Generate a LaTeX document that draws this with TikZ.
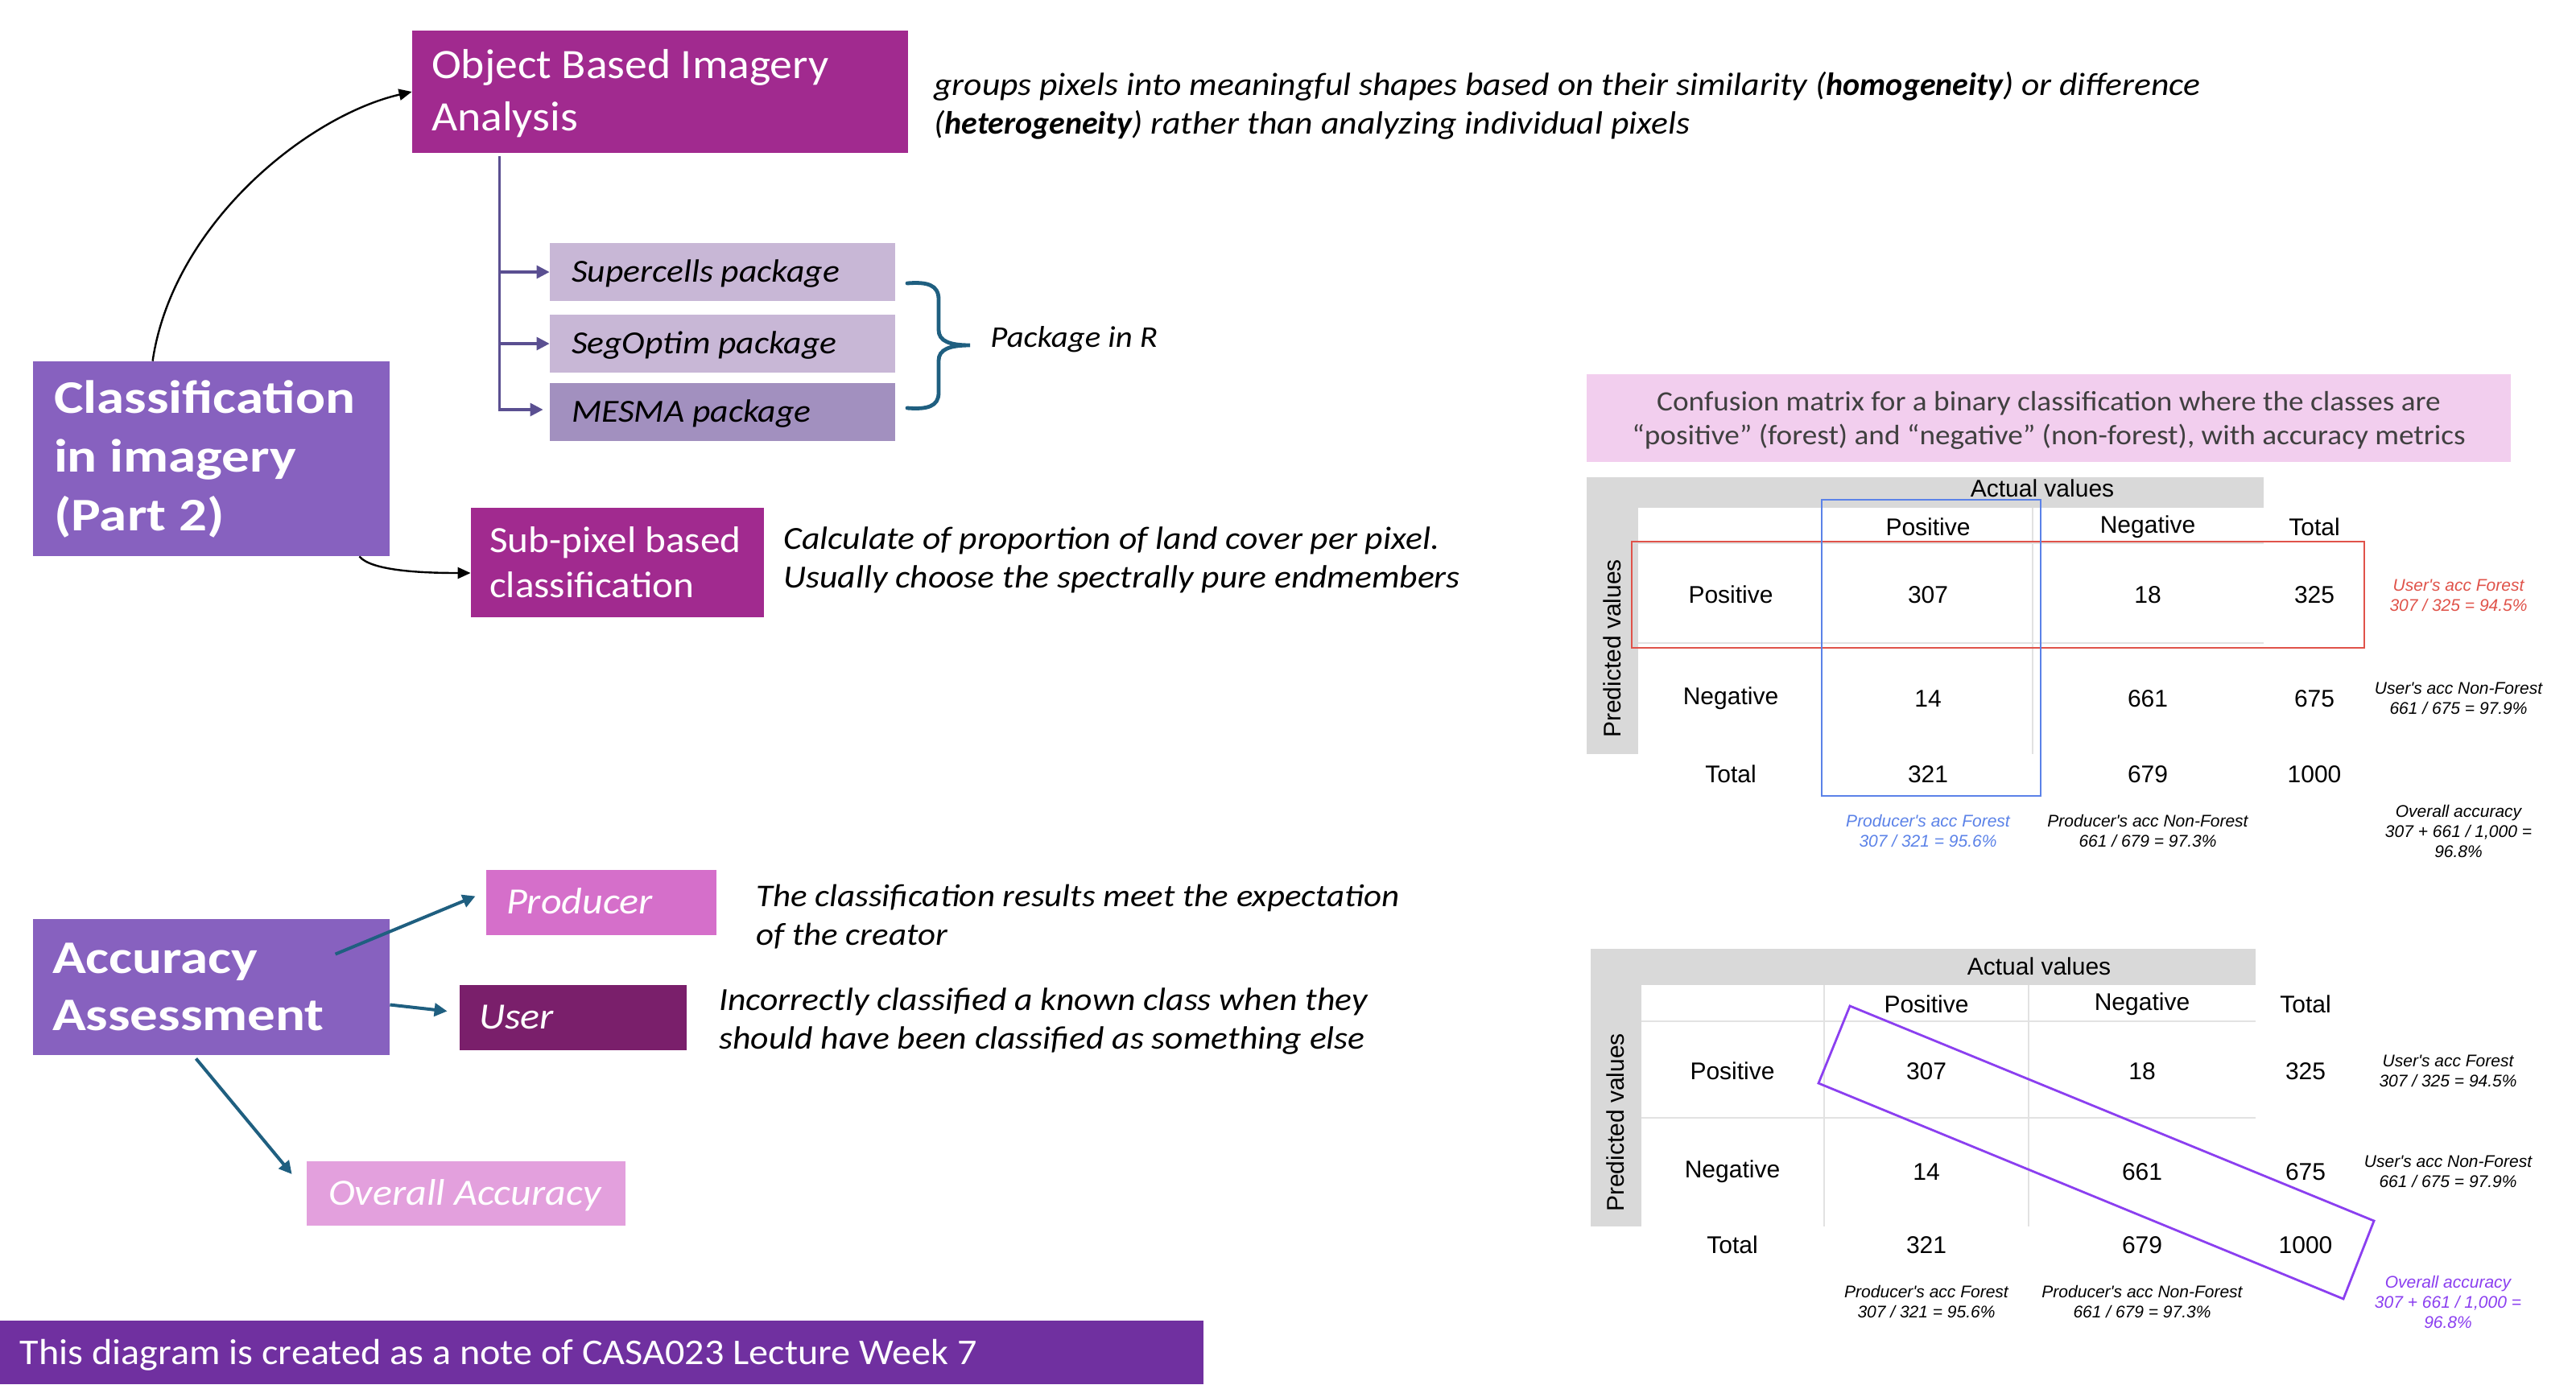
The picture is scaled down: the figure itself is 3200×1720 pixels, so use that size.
\documentclass[tikz,border=0pt]{standalone}
\usepackage{fontspec}
\setmainfont{Carlito}[UprightFeatures={FakeStretch=1.07}, BoldFeatures={FakeStretch=1.19}, ItalicFeatures={FakeStretch=1.09}, BoldItalicFeatures={FakeStretch=1.0}]
\newfontfamily\arialf{Liberation Sans}
\usetikzlibrary{arrows.meta,calc}
\newcommand\myfs[2]{\fontsize{#1}{#2}\selectfont}
\definecolor{cObia}{HTML}{A12A8F}
\definecolor{cCls}{HTML}{8761BF}
\definecolor{cPkgL}{HTML}{C8B7D6}
\definecolor{cPkgD}{HTML}{A290BF}
\definecolor{cProd}{HTML}{D56FCA}
\definecolor{cUser}{HTML}{7A1F6B}
\definecolor{cOver}{HTML}{E3A0DD}
\definecolor{cFoot}{HTML}{7030A0}
\definecolor{cCap}{HTML}{F2CEEE}
\definecolor{cGray}{HTML}{D9D9D9}
\definecolor{cGrid}{HTML}{E2E2E2}
\definecolor{cTeal}{HTML}{1F5F80}
\definecolor{cBranch}{HTML}{5A4F91}
\definecolor{cRed}{HTML}{E0534A}
\definecolor{cBlue}{HTML}{5B82E8}
\definecolor{cViolet}{HTML}{8B3FF0}
\definecolor{cCapT}{HTML}{404040}
\begin{document}
\begin{tikzpicture}[x=0.5pt,y=-0.5pt,
  boxs/.style={rectangle, draw=none, inner sep=0pt},
  txt/.style={inner sep=0pt, align=left, anchor=west},
  one/.style={inner sep=0pt, anchor=base west},
  mt/.style={inner sep=0pt, font=\arialf\myfs{15}{18}},
  note/.style={inner sep=0pt, align=center, font=\arialf\itshape\myfs{10.5}{12.5}},
  blackarrow/.style={draw=black, line width=1.2pt, -{Triangle[length=8pt,width=7pt]}},
  brancharrow/.style={draw=cBranch, line width=1.6pt, -{Triangle[length=8pt,width=8pt]}},
  tealarrow/.style={draw=cTeal, line width=2pt, -{Triangle[length=8pt,width=8pt]}},
  gridline/.style={draw=cGrid, line width=1.2pt}
]
\useasboundingbox (0,0) rectangle (3200,1720);
\fill[white] (0,0) rectangle (3200,1720);

% ---------- left upper part ----------
\node[boxs, fill=cObia, minimum width=308pt, minimum height=76pt] (obia) at (820,114) {};
\node[txt, text=white, font=\myfs{26}{32.5}] (obiaT) at ($(obia.west)+(24,2)$) {Object Based Imagery\\Analysis};

\node[boxs, fill=cCls, minimum width=221.5pt, minimum height=121pt] (cls) at (262.5,570) {};
\node[txt, text=white, font=\bfseries\myfs{29}{36.5}] (clsT) at ($(cls.west)+(26,0)$) {Classification\\in imagery\\(Part 2)};

\node[boxs, fill=cPkgL, minimum width=214.5pt, minimum height=36pt] (sup) at (897.5,338) {};
\node[one, font=\itshape\myfs{20}{24}] (supT) at ($(sup.west)+(27,12)$) {Supercells package};
\node[boxs, fill=cPkgL, minimum width=214.5pt, minimum height=36pt] (seg) at (897.5,427) {};
\node[one, font=\itshape\myfs{20}{24}] (segT) at ($(seg.west)+(27,12)$) {SegOptim package};
\node[boxs, fill=cPkgD, minimum width=214.5pt, minimum height=36pt] (mes) at (897.5,512) {};
\node[one, font=\itshape\myfs{20}{24}] (mesT) at ($(mes.west)+(27,12)$) {MESMA package};

\node[boxs, fill=cObia, minimum width=182pt, minimum height=68pt] (sub) at (767,699) {};
\node[txt, text=white, font=\myfs{23}{28}] (subT) at ($(sub.west)+(23,0)$) {Sub-pixel based\\classification};

\node[txt, font=\itshape\myfs{20}{24}] (obiaD) at (1160,131) {groups pixels into meaningful shapes based on their similarity (\textbf{homogeneity}) or difference\\(\textbf{heterogeneity}) rather than analyzing individual pixels};
\node[one, font=\itshape\myfs{18.7}{23}] (pkgR) at (1230,431) {Package in R};
\node[txt, font=\itshape\myfs{20}{24}] (subD) at (973,696) {Calculate of proportion of land cover per pixel.\\Usually choose the spectrally pure endmembers};

% brace
\draw[cTeal, line width=2.4pt, line cap=round]
  (1127,352) .. controls (1152,350) and (1166,354) .. (1166,372) -- (1166,410)
  .. controls (1166,424) and (1180,429) .. (1205,429)
  .. controls (1180,429) and (1166,434) .. (1166,448) -- (1166,488)
  .. controls (1166,505) and (1152,509) .. (1127,507);

% connectors
\draw[blackarrow] ($(cls.north west)+(149,0)$) .. controls +(25,-170) and +(-130,30) .. (obia.west);
\draw[blackarrow] ($(cls.south east)+(-38,0)$) .. controls +(15,18) and +(-60,0) .. ($(sub.west)+(0,13)$);
\draw[brancharrow] ($(obia.south west)+(109,4)$) |- (sup.west);
\draw[brancharrow] ($(obia.south west)+(109,4)$) |- (seg.west);
\draw[brancharrow] ($(obia.south west)+(109,4)$) |- ($(mes.west)+(-8,-3)$);

% ---------- accuracy part ----------
\node[boxs, fill=cCls, minimum width=221.5pt, minimum height=84.5pt] (acc) at (262.5,1226.5) {};
\node[txt, text=white, font=\bfseries\myfs{29}{35.5}] (accT) at ($(acc.west)+(24,0)$) {Accuracy\\Assessment};
\node[boxs, fill=cProd, minimum width=143pt, minimum height=40.5pt] (prod) at (747,1121.5) {};
\node[one, text=white, font=\itshape\myfs{23}{28}] (prodT) at ($(prod.west)+(25,14)$) {Producer};
\node[boxs, fill=cUser, minimum width=141pt, minimum height=40.5pt] (user) at (712,1264.5) {};
\node[one, text=white, font=\itshape\myfs{23}{28}] (userT) at ($(user.west)+(24,14)$) {User};
\node[boxs, fill=cOver, minimum width=198pt, minimum height=40pt] (over) at (579,1483) {};
\node[one, text=white, font=\itshape\myfs{23}{28}] (overT) at ($(over.west)+(27,14)$) {Overall Accuracy};

\node[txt, font=\itshape\myfs{19.7}{24}] (prodD) at (939,1139) {The classification results meet the expectation\\of the creator};
\node[txt, font=\itshape\myfs{20}{24}] (userD) at (893,1269) {Incorrectly classified a known class when they\\should have been classified as something else};

\draw[tealarrow] ($(acc.north west)+(376,44)$) -- ($(prod.west)+(-13,-8)$);
\draw[tealarrow] ($(acc.east)+(0,22)$) -- ($(user.west)+(-15,-8)$);
\draw[tealarrow] ($(acc.south)+(-19,4)$) -- ($(over.west)+(-18,-24)$);

% footer
\node[boxs, fill=cFoot, minimum width=747.5pt, minimum height=39.5pt] (foot) at (747.5,1680.5) {};
\node[one, text=white, font=\myfs{22.5}{28}] (footT) at ($(foot.west)+(25,15)$) {This diagram is created as a note of CASA023 Lecture Week 7};

% ---------- caption ----------
\node[boxs, fill=cCap, minimum width=574pt, minimum height=54.5pt] (cap) at (2545,519.5) {};
\node[inner sep=0pt, align=center, text=cCapT, font=\myfs{17.4}{21}] (capT) at ($(cap.center)+(0,3)$) {Confusion matrix for a binary classification where the classes are\\“positive” (forest) and “negative” (non-forest), with accuracy metrics};

% ---------- top matrix ----------
\fill[cGray] (1971,593) rectangle (2812,937);
\fill[white] (2035,631) rectangle (2812,937);
\draw[gridline] (2035,675) -- (2812,675) (2035,799) -- (2812,799)
  (2263,631) -- (2263,937) (2525,631) -- (2525,937);
\node[mt] (aAV) at (2537,607) {Actual values};
\node[mt, rotate=90] (aPV) at (2003,806) {Predicted values};
\node[mt] (aHP) at (2395,655) {Positive};
\node[mt] (aHN) at (2668,655) {Negative};
\node[mt] (aHT) at (2875,655) {Total};
\node[mt] (aRP) at (2150,739) {Positive};
\node[mt] (aRN) at (2150,868) {Negative};
\node[mt] (aRT) at (2150,962) {Total};
\node[mt] (a11) at (2395,739) {307};
\node[mt] (a12) at (2668,739) {18};
\node[mt] (a13) at (2875,739) {325};
\node[mt] (a21) at (2395,868) {14};
\node[mt] (a22) at (2668,868) {661};
\node[mt] (a23) at (2875,868) {675};
\node[mt] (a31) at (2395,962) {321};
\node[mt] (a32) at (2668,962) {679};
\node[mt] (a33) at (2875,962) {1000};
\draw[cRed, line width=1.2pt] (2027,673) rectangle (2937,805);
\draw[cBlue, line width=1.2pt] (2263,621) rectangle (2535,989);
\node[note, text=cRed] (aUF) at (3054,740) {User's acc Forest\\307 / 325 = 94.5\%};
\node[note] (aUN) at (3054,868) {User's acc Non-Forest\\661 / 675 = 97.9\%};
\node[note, text=cBlue] (aPF) at (2395,1032) {Producer's acc Forest\\307 / 321 = 95.6\%};
\node[note] (aPN) at (2668,1032) {Producer's acc Non-Forest\\661 / 679 = 97.3\%};
\node[note] (aOA) at (3054,1033) {Overall accuracy\\307 + 661 / 1,000 =\\96.8\%};

% ---------- bottom matrix ----------
\fill[cGray] (1976,1179) rectangle (2802,1524);
\fill[white] (2039,1224) rectangle (2802,1524);
\draw[gridline] (2039,1269) -- (2802,1269) (2039,1389) -- (2802,1389)
  (2266,1224) -- (2266,1524) (2520,1224) -- (2520,1524);
\node[mt] (bAV) at (2533,1201) {Actual values};
\node[mt, rotate=90] (bPV) at (2007,1395) {Predicted values};
\node[mt] (bHP) at (2393,1248) {Positive};
\node[mt] (bHN) at (2661,1248) {Negative};
\node[mt] (bHT) at (2864,1248) {Total};
\node[mt] (bRP) at (2152,1331) {Positive};
\node[mt] (bRN) at (2152,1456) {Negative};
\node[mt] (bRT) at (2152,1547) {Total};
\node[mt] (b11) at (2393,1331) {307};
\node[mt] (b12) at (2661,1331) {18};
\node[mt] (b13) at (2864,1331) {325};
\node[mt] (b21) at (2393,1456) {14};
\node[mt] (b22) at (2661,1456) {661};
\node[mt] (b23) at (2864,1456) {675};
\node[mt] (b31) at (2393,1547) {321};
\node[mt] (b32) at (2661,1547) {679};
\node[mt] (b33) at (2864,1547) {1000};
\draw[cViolet, line width=1.4pt] (2298,1250) -- (2949,1517) -- (2911,1614) -- (2259,1346) -- cycle;
\node[note] (bUF) at (3041,1331) {User's acc Forest\\307 / 325 = 94.5\%};
\node[note] (bUN) at (3041,1456) {User's acc Non-Forest\\661 / 675 = 97.9\%};
\node[note] (bPF) at (2393,1617) {Producer's acc Forest\\307 / 321 = 95.6\%};
\node[note] (bPN) at (2661,1617) {Producer's acc Non-Forest\\661 / 679 = 97.3\%};
\node[note, text=cViolet] (bOA) at (3041,1618) {Overall accuracy\\307 + 661 / 1,000 =\\96.8\%};
\end{tikzpicture}
\end{document}
